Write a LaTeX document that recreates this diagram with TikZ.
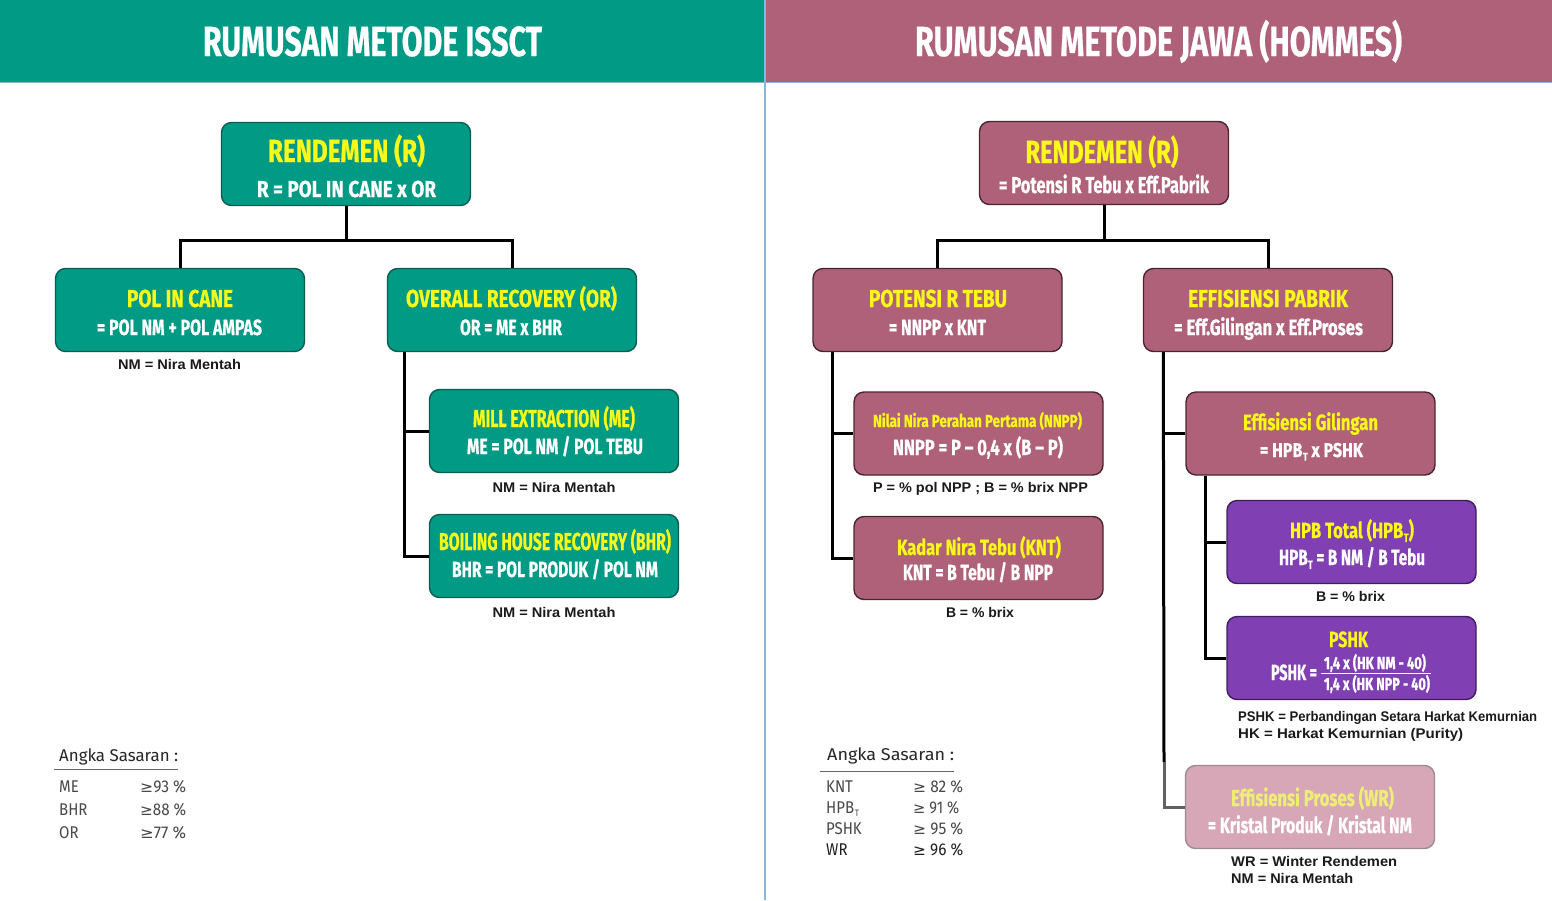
\documentclass[tikz,border=0pt]{standalone}
\usepackage{fontspec}
\usepackage{graphicx}
\setmainfont{Liberation Sans}
\newfontfamily\cond[BoldFeatures={FakeBold=0.7}]{Fira Sans}
\newfontfamily\legf[FakeStretch=0.88]{Fira Sans}
\newfontfamily\djv{DejaVu Sans}
\definecolor{tealh}{HTML}{009A85}
\definecolor{tealb}{HTML}{0C5D51}
\definecolor{mauveh}{HTML}{B0617A}
\definecolor{mauveb}{HTML}{4B2432}
\definecolor{purp}{HTML}{8040B4}
\definecolor{purpb}{HTML}{3E1E60}
\definecolor{pinkf}{HTML}{D8A7B7}
\definecolor{pinkb}{HTML}{9A8C90}
\definecolor{yel}{HTML}{F8F81A}
\definecolor{yelpale}{HTML}{EEEE77}
\definecolor{notec}{HTML}{1A1A1A}
\definecolor{legc}{HTML}{484848}
\definecolor{sepc}{HTML}{8FB4D9}
\newsavebox\fitbox
\newcommand\fitx[2]{\sbox\fitbox{#2}\pgfmathsetmacro\fitfac{#1/(\the\wd\fitbox)}\scalebox{\fitfac}[1]{\usebox\fitbox}}
\newcommand\subT{\kern0.6pt\raisebox{-0.18em}{\scalebox{0.55}{T}}}
\newcommand\boxtext[7]{\node[anchor=base,inner sep=0pt,text=#6,font=\cond\bfseries\fontsize{#5}{#5}\selectfont] (#1) at (#2,#3) {\fitx{#4}{#7}};}
\newcommand\notetext[6]{\node[anchor=#4,inner sep=0pt,text=notec,font=\bfseries\fontsize{14}{14}\selectfont] (#1) at (#2,#3) {\fitx{#5}{#6}};}
\tikzset{
  bx/.style={rounded corners=10pt, line width=1.4pt, inner sep=0pt, minimum width=249pt, minimum height=83pt},
  tbox/.style={bx, draw=tealb, fill=tealh},
  mbox/.style={bx, draw=mauveb, fill=mauveh},
  pbox/.style={bx, draw=purpb, fill=purp},
  lbox/.style={bx, draw=pinkb, fill=pinkf},
  conn/.style={line width=3pt, black},
  conng/.style={line width=3pt, black!62},
  leg/.style={anchor=base west, inner sep=0pt, text=legc, font=\legf\fontsize{17}{17}\selectfont},
}
\begin{document}
\begin{tikzpicture}[x=1pt,y=-1pt]
\useasboundingbox (0,0) rectangle (1552,900);
\fill[white] (0,0) rectangle (1552,900);
% headers
\fill[tealh] (0,0) rectangle (764,82);
\fill[mauveh] (766,0) rectangle (1552,82);
\draw[sepc, line width=1pt] (0,82) -- (1552,82);
\draw[sepc, line width=1.5pt] (765,0) -- (765,900);
\boxtext{hL}{372.5}{56}{339}{42}{white}{RUMUSAN METODE ISSCT}
\boxtext{hR}{1158.5}{56}{487}{42}{white}{RUMUSAN METODE JAWA (HOMMES)}

% ---------- LEFT ----------
\node[tbox] (R) at (346,164) {};
\node[tbox] (PIC) at (180,310) {};
\node[tbox] (ORb) at (512,310) {};
\node[tbox] (ME) at (554,431) {};
\node[tbox] (BHR) at (554,556) {};
\coordinate (jL) at (346,240);
\draw[conn] (R.south) -- (jL);
\draw[conn] (PIC.north) |- (jL) -| (ORb.north);
\draw[conn] ([xshift=18pt]ORb.south west) |- (ME.west);
\draw[conn] ([xshift=18pt]ORb.south west) |- (BHR.west);

\boxtext{Rt}{346.5}{162}{157}{32}{yel}{RENDEMEN (R)}
\boxtext{Rs}{346.5}{197}{179}{23}{white}{R = POL IN CANE x OR}
\boxtext{PICt}{180}{307}{106}{24.5}{yel}{POL IN CANE}
\boxtext{PICs}{179.5}{335}{165}{22}{white}{= POL NM + POL AMPAS}
\boxtext{ORt}{511.5}{307}{211}{24.5}{yel}{OVERALL RECOVERY (OR)}
\boxtext{ORs}{511}{335}{102}{22}{white}{OR = ME x BHR}
\boxtext{MEt}{554}{427}{162}{24.5}{yel}{MILL EXTRACTION (ME)}
\boxtext{MEs}{555}{454}{176}{22}{white}{ME = POL NM / POL TEBU}
\boxtext{BHRt}{555}{550}{232}{24.5}{yel}{BOILING HOUSE RECOVERY (BHR)}
\boxtext{BHRs}{555}{577}{206}{22}{white}{BHR = POL PRODUK / POL NM}
\notetext{nPIC}{179.5}{369}{base}{123}{NM = Nira Mentah}
\notetext{nME}{554}{492}{base}{123}{NM = Nira Mentah}
\notetext{nBHR}{554}{617}{base}{123}{NM = Nira Mentah}

% legend left
\node[leg, text=black!85] (lgL) at (59,761) {\fitx{119}{Angka Sasaran :}};
\coordinate (ulL1) at (54,769); \coordinate (ulL2) at (178,769);
\draw[black!60, line width=1pt] (ulL1) -- (ulL2);
\node[leg] (lgME) at (59,792) {ME};
\node[leg] (lgMEv) at (140,792) {\fitx{46}{{\djv\fontsize{15}{15}\selectfont ≥}93 \%}};
\node[leg] (lgBHR) at (59,815) {BHR};
\node[leg] (lgBHRv) at (140,815) {\fitx{46}{{\djv\fontsize{15}{15}\selectfont ≥}88 \%}};
\node[leg] (lgOR) at (59,838) {OR};
\node[leg] (lgORv) at (140,838) {\fitx{46}{{\djv\fontsize{15}{15}\selectfont ≥}77 \%}};

% ---------- RIGHT ----------
\node[mbox] (RR) at (1104,163) {};
\node[mbox] (POT) at (937.5,310) {};
\node[mbox] (EP) at (1268,310) {};
\node[mbox] (NNPP) at (978.5,433.5) {};
\node[mbox] (KNT) at (978.5,558) {};
\node[mbox] (EG) at (1310.5,433.5) {};
\node[pbox] (HPB) at (1351.5,542) {};
\node[pbox] (PSHK) at (1351.5,658) {};
\node[lbox] (EPR) at (1310,807) {};
\coordinate (jR) at (1104,240);
\draw[conn] (RR.south) -- (jR);
\draw[conn] (POT.north) |- (jR) -| (EP.north);
\draw[conn] ([xshift=20pt]POT.south west) |- (NNPP.west);
\draw[conn] ([xshift=20pt]POT.south west) |- (KNT.west);
\coordinate (epB) at (1164,762);
\draw[conn] ([xshift=20.5pt]EP.south west) |- (EG.west);
\draw[conn] ([xshift=20.5pt]EP.south west) -- (epB);
\draw[conng] (epB) |- (EPR.west);
\draw[conn] ([xshift=20pt]EG.south west) |- (HPB.west);
\draw[conn] ([xshift=20pt]EG.south west) |- (PSHK.west);

\boxtext{RRt}{1102}{163}{153}{32}{yel}{RENDEMEN (R)}
\boxtext{RRs}{1104}{193}{210}{23}{white}{= Potensi R Tebu x Eff.Pabrik}
\boxtext{POTt}{938}{307}{138}{24.5}{yel}{POTENSI R TEBU}
\boxtext{POTs}{937.5}{335}{97}{22}{white}{= NNPP x KNT}
\boxtext{EPt}{1268}{307}{160}{24.5}{yel}{EFFISIENSI PABRIK}
\boxtext{EPs}{1268.5}{335}{189}{22}{white}{= Eff.Gilingan x Eff.Proses}
\boxtext{NNt}{977.5}{427}{209}{17.5}{yel}{Nilai Nira Perahan Pertama (NNPP)}
\boxtext{NNs}{978}{455}{170}{22}{white}{NNPP = P – 0,4 x (B – P)}
\boxtext{KNt}{979}{555}{164}{22}{yel}{Kadar Nira Tebu (KNT)}
\boxtext{KNs}{978}{580}{150}{22}{white}{KNT = B Tebu / B NPP}
\boxtext{EGt}{1310.5}{430}{135}{22}{yel}{Effisiensi Gilingan}
\boxtext{EGs}{1311.5}{457}{103}{20}{white}{= HPB\subT{} x PSHK}
\boxtext{HPt}{1352}{538}{124}{22}{yel}{HPB Total (HPB\subT)}
\boxtext{HPs}{1352}{565}{146}{22}{white}{HPB\subT{} = B NM / B Tebu}
\boxtext{PSt}{1348.5}{647}{39}{22}{yel}{PSHK}
\boxtext{PSs}{1294}{680}{46}{22}{white}{PSHK =}
\boxtext{PSn}{1375}{669}{102}{17.5}{white}{1,4 x (HK NM - 40)}
\boxtext{PSd}{1377}{690}{106}{17.5}{white}{1,4 x (HK NPP - 40)}
\coordinate (fb1) at (1321,673.5); \coordinate (fb2) at (1431,673.5);
\draw[white, line width=1.3pt] (fb1) -- (fb2);
\boxtext{EPRt}{1312.5}{806}{163}{23}{yelpale}{Effisiensi Proses (WR)}
\boxtext{EPRs}{1310}{833}{204}{22}{white}{= Kristal Produk / Kristal NM}

\notetext{nNNPP}{980.5}{492}{base}{215}{P = \% pol NPP ; B = \% brix NPP}
\notetext{nKNT}{980}{617}{base}{68}{B = \% brix}
\notetext{nHPB}{1350.5}{601}{base}{69}{B = \% brix}
\notetext{nPS1}{1238}{721}{base west}{299}{PSHK = Perbandingan Setara Harkat Kemurnian}
\notetext{nPS2}{1238}{738}{base west}{225}{HK = Harkat Kemurnian (Purity)}
\notetext{nWR1}{1231}{866}{base west}{166}{WR = Winter Rendemen}
\notetext{nWR2}{1231}{883}{base west}{122}{NM = Nira Mentah}

% legend right
\node[leg, text=black!85] (lgR) at (827,760) {\fitx{127}{Angka Sasaran :}};
\coordinate (ulR1) at (820,771); \coordinate (ulR2) at (954,771);
\draw[black!60, line width=1pt] (ulR1) -- (ulR2);
\node[leg] (lgKNT) at (826,792) {KNT};
\node[leg] (lgKNTv) at (913,792) {\fitx{50}{{\djv\fontsize{15}{15}\selectfont ≥} 82 \%}};
\node[leg] (lgHPB) at (826,813) {HPB\subT};
\node[leg] (lgHPBv) at (913,813) {\fitx{46}{{\djv\fontsize{15}{15}\selectfont ≥} 91 \%}};
\node[leg] (lgPS) at (826,834) {PSHK};
\node[leg] (lgPSv) at (913,834) {\fitx{50}{{\djv\fontsize{15}{15}\selectfont ≥} 95 \%}};
\node[leg, text=black!88] (lgWR) at (826,855) {WR};
\node[leg, text=black!88] (lgWRv) at (913,855) {\fitx{50}{{\djv\fontsize{15}{15}\selectfont ≥} 96 \%}};
\end{tikzpicture}
\end{document}
